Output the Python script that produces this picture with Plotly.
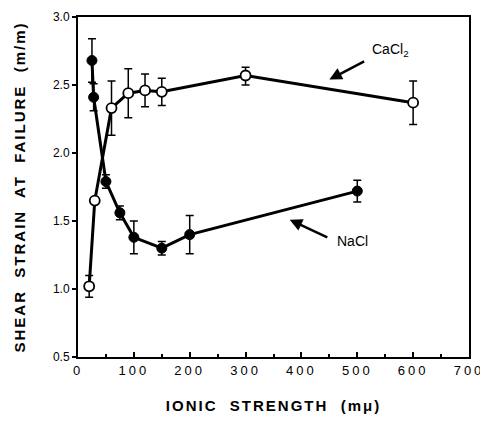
import plotly.graph_objects as go

# CaCl2 (open circles)
ca_x = [20, 30, 60, 90, 120, 150, 300, 600]
ca_y = [1.02, 1.65, 2.33, 2.44, 2.46, 2.45, 2.57, 2.37]
ca_err_plus = [0.08, 0.02, 0.20, 0.18, 0.12, 0.10, 0.06, 0.16]
ca_err_minus = [0.08, 0.02, 0.20, 0.18, 0.12, 0.10, 0.07, 0.16]

# NaCl (filled circles)
na_x = [25, 28, 50, 75, 100, 150, 200, 500]
na_y = [2.68, 2.41, 1.79, 1.56, 1.38, 1.30, 1.40, 1.72]
na_err_plus = [0.16, 0.10, 0.05, 0.05, 0.12, 0.05, 0.14, 0.08]
na_err_minus = [0.16, 0.10, 0.05, 0.05, 0.12, 0.05, 0.14, 0.08]

x_ticks = [0, 100, 200, 300, 400, 500, 600, 700]
y_ticks = [0.5, 1.0, 1.5, 2.0, 2.5, 3.0]

FONT = "Liberation Sans"
LS = '<span style="letter-spacing:%spx">%s</span>'

fig = go.Figure()
fig.add_trace(go.Scatter(
    x=na_x, y=na_y, mode="lines+markers", name="NaCl",
    line=dict(color="black", width=3),
    marker=dict(size=10, color="black", line=dict(color="black", width=1)),
    error_y=dict(type="data", symmetric=False, array=na_err_plus, arrayminus=na_err_minus,
                 color="black", thickness=1.5, width=4),
))
fig.add_trace(go.Scatter(
    x=ca_x, y=ca_y, mode="lines+markers", name="CaCl2",
    line=dict(color="black", width=3),
    marker=dict(size=10, color="white", line=dict(color="black", width=1.8)),
    error_y=dict(type="data", symmetric=False, array=ca_err_plus, arrayminus=ca_err_minus,
                 color="black", thickness=1.5, width=4),
))

fig.add_annotation(x=560, y=2.76, xref="x", yref="y", text="CaCl<sub>2</sub>",
                   showarrow=False, font=dict(family=FONT, size=14, color="black"))
fig.add_annotation(x=450, y=2.54, ax=515, ay=2.68, axref="x", ayref="y", xref="x", yref="y",
                   text="", showarrow=True, arrowhead=2, arrowsize=1.0, arrowwidth=2.5,
                   arrowcolor="black")
fig.add_annotation(x=492, y=1.35, xref="x", yref="y", text="NaCl",
                   showarrow=False, font=dict(family=FONT, size=14, color="black"))
fig.add_annotation(x=379, y=1.51, ax=449, ay=1.375, axref="x", ayref="y", xref="x", yref="y",
                   text="", showarrow=True, arrowhead=2, arrowsize=1.0, arrowwidth=2.5,
                   arrowcolor="black")

fig.update_layout(
    width=480, height=428,
    margin=dict(l=78, r=11, t=17, b=71),
    paper_bgcolor="white", plot_bgcolor="white",
    showlegend=False,
    font=dict(family=FONT, size=12, color="black"),
    xaxis=dict(
        range=[0, 700], tickvals=x_ticks, ticktext=[LS % (3, v) for v in x_ticks],
        ticks="inside", ticklen=5, tickwidth=1.5, tickcolor="black",
        minor=dict(ticks="inside", dtick=50, ticklen=3, tickcolor="black"),
        showline=True, linecolor="black", linewidth=2, mirror=True,
        showgrid=False, zeroline=False, automargin=False,
        ticklabeloverflow="allow",
        tickfont=dict(family=FONT, size=13, color="black"),
        title=dict(text="<b>" + LS % (2, "IONIC  STRENGTH  (mμ)") + "</b>", standoff=24,
                   font=dict(family=FONT, size=15, color="black")),
    ),
    yaxis=dict(
        range=[0.5, 3.0], tickvals=y_ticks, ticktext=["%.1f" % v for v in y_ticks],
        ticks="outside", ticklen=4, tickwidth=1.5, tickcolor="black",
        showline=True, linecolor="black", linewidth=2, mirror=True,
        showgrid=False, zeroline=False, automargin=False,
        tickfont=dict(family=FONT, size=12, color="black"),
        title=dict(text="<b>" + LS % (2, "SHEAR  STRAIN  AT  FAILURE  (m/m)") + "</b>", standoff=24,
                   font=dict(family=FONT, size=15, color="black")),
    ),
)

fig.write_html("out.html")
